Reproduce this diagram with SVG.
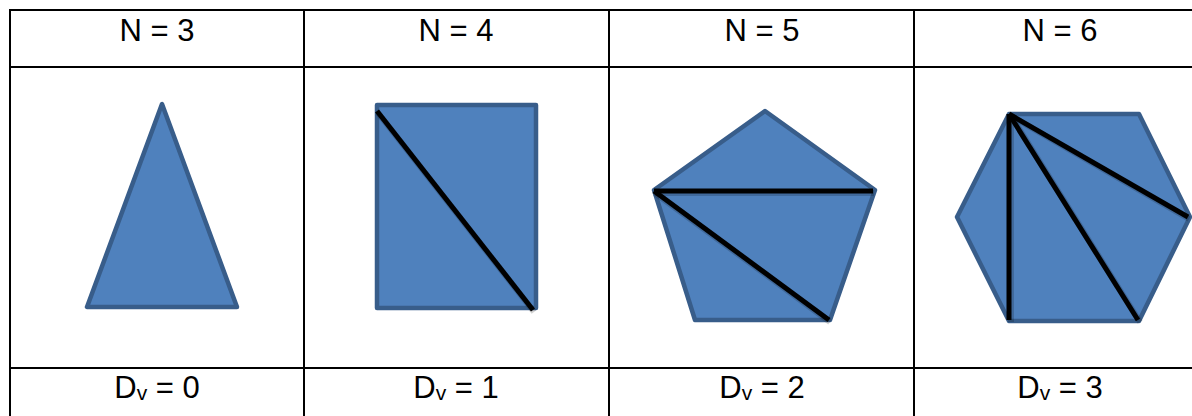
<svg xmlns="http://www.w3.org/2000/svg" width="1192" height="416" viewBox="0 0 1192 416">
<style>
.grid{stroke:#000;stroke-width:2;fill:none}
.shape{fill:#4F81BD;stroke:#385D8A;stroke-width:4.5;stroke-linejoin:round}
.diag{stroke:#000;stroke-width:5;stroke-linecap:butt}
.shadow{stroke:#000;stroke-opacity:0.18;stroke-width:6}
.lbl{font-family:"Liberation Sans",Arial,sans-serif;font-size:31px;fill:#000;text-anchor:middle}
.sub{font-size:21px}
</style>
<rect width="1192" height="416" fill="#fff"/>
<g id="table" class="grid">
<line x1="9" y1="10" x2="1192" y2="10"/>
<line x1="9" y1="67" x2="1192" y2="67"/>
<line x1="9" y1="368" x2="1192" y2="368"/>
<line x1="10" y1="9" x2="10" y2="416"/>
<line x1="304" y1="9" x2="304" y2="416"/>
<line x1="609" y1="9" x2="609" y2="416"/>
<line x1="914" y1="9" x2="914" y2="416"/>
</g>
<g id="n3">
<text class="lbl" x="157" y="41">N = 3</text>
<polygon class="shape" points="162,104 87,307 237,307"/>
<text class="lbl" x="157" y="398">D<tspan class="sub" dy="2">v</tspan><tspan dy="-2"> = 0</tspan></text>
</g>
<g id="n4">
<text class="lbl" x="456" y="41">N = 4</text>
<rect class="shape" x="377" y="105" width="159" height="203"/>
<text class="lbl" x="456" y="398">D<tspan class="sub" dy="2">v</tspan><tspan dy="-2"> = 1</tspan></text>
</g>
<g id="n5">
<text class="lbl" x="762" y="41">N = 5</text>
<polygon class="shape" points="765,111 875,190 830,320 695,320 654,190"/>
<text class="lbl" x="762" y="398">D<tspan class="sub" dy="2">v</tspan><tspan dy="-2"> = 2</tspan></text>
</g>
<g id="n6">
<text class="lbl" x="1060" y="41">N = 6</text>
<polygon class="shape" points="1009,114 1139,114 1190,217 1139,321 1009,321 957,217"/>
<text class="lbl" x="1060" y="398">D<tspan class="sub" dy="2">v</tspan><tspan dy="-2"> = 3</tspan></text>
</g>
<g id="connectors">
<g class="shadow">
<line x1="378" y1="113" x2="534" y2="312"/>
<line x1="655" y1="193" x2="874" y2="193"/>
<line x1="655" y1="193" x2="830" y2="322"/>
<line x1="1011" y1="116" x2="1011" y2="322"/>
<line x1="1011" y1="116" x2="1140" y2="322"/>
<line x1="1011" y1="116" x2="1189" y2="219"/>
</g>
<line class="diag" x1="377" y1="111" x2="533" y2="310"/>
<line class="diag" x1="654" y1="191" x2="873" y2="191"/>
<line class="diag" x1="654" y1="191" x2="829" y2="320"/>
<line class="diag" x1="1009" y1="114" x2="1009" y2="320"/>
<line class="diag" x1="1009" y1="114" x2="1138" y2="320"/>
<line class="diag" x1="1009" y1="114" x2="1188" y2="217"/>
</g>
</svg>
